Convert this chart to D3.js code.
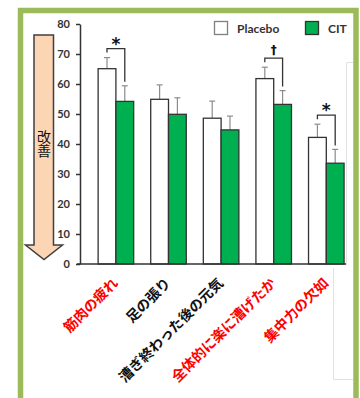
<!DOCTYPE html>
<html>
<head>
<meta charset="utf-8">
<script src="https://cdn.jsdelivr.net/npm/d3@7"></script>
<style>
  html, body { margin: 0; padding: 0; background: #fff; }
  svg { display: block; }
</style>
</head>
<body>
<svg id="chart" width="360" height="398"></svg>
<script>
// Questionnaire items (lower score = improvement)
const categories = ["筋肉の疲れ", "足の張り", "漕ぎ終わった後の元気", "全体的に楽に漕げたか", "集中力の欠如"];
const highlighted = [true, false, false, true, true];
const series = ["Placebo", "CIT"];

// Means and standard errors
const placebo = [65.1, 54.9, 48.6, 61.8, 42.2];
const placeboErr = [3.7, 4.8, 5.7, 3.8, 4.4];
const cit = [54.2, 49.9, 44.7, 53.2, 33.6];
const citErr = [5.2, 5.5, 4.6, 4.6, 4.6];

// Significant differences between groups
const sigIndex = [0, 3, 4];
const sigMarks = ["*", "†", "*"];

const yTicks = [0, 10, 20, 30, 40, 50, 60, 70, 80];

const colors = { Placebo: "#ffffff", CIT: "#00b050" };
const ink = "#333333";

const svg = d3.select("#chart");

// Frame (open at the bottom edge of the view)
svg.append("path")
  .attr("d", "M20.5,400V10.5H356V400")
  .attr("fill", "none")
  .attr("stroke", "#9bbb59").attr("stroke-width", 5.5);

// Faint panel edges on the right
const faint = svg.append("g").attr("stroke", "#e2e2e2").attr("stroke-width", 1).attr("fill", "none");
faint.append("path").attr("d", "M353,62.5H346.5V265");
faint.append("path").attr("d", "M333.5,268V379.5H353");

const y = d3.scaleLinear().domain([0, 80]).range([264, 24]);
const x0 = d3.scaleBand().domain(categories).range([89.6, 352.6])
  .paddingInner(0.324).paddingOuter(0.162);
const x1 = d3.scaleBand().domain(series).range([0, x0.bandwidth()]);

const rows = categories.map((c, i) => ({
  cat: c, i,
  vals: [
    { s: "Placebo", v: placebo[i], e: placeboErr[i] },
    { s: "CIT", v: cit[i], e: citErr[i] }
  ]
}));

// Error bars (upward only)
const eb = svg.append("g").attr("stroke", "#8c8c8c").attr("stroke-width", 1.2);
rows.forEach(r => r.vals.forEach(d => {
  const cx = x0(r.cat) + x1(d.s) + x1.bandwidth() / 2;
  eb.append("line").attr("x1", cx).attr("x2", cx)
    .attr("y1", y(d.v)).attr("y2", y(d.v + d.e));
  eb.append("line").attr("x1", cx - 3).attr("x2", cx + 3)
    .attr("y1", y(d.v + d.e)).attr("y2", y(d.v + d.e));
}));

// Bars
const groups = svg.append("g").selectAll("g").data(rows).join("g")
  .attr("transform", d => `translate(${x0(d.cat)},0)`);
groups.selectAll("rect").data(d => d.vals).join("rect")
  .attr("x", d => x1(d.s))
  .attr("y", d => y(d.v))
  .attr("width", x1.bandwidth())
  .attr("height", d => y(0) - y(d.v))
  .attr("fill", d => colors[d.s])
  .attr("stroke", ink).attr("stroke-width", 1.3);

// Y axis
const yAxis = svg.append("g")
  .attr("transform", "translate(80,0)")
  .call(d3.axisLeft(y).tickValues(yTicks).tickSize(4).tickPadding(6).tickSizeOuter(0));
yAxis.select(".domain").attr("stroke", ink).attr("stroke-width", 1.5);
yAxis.selectAll(".tick line").attr("stroke", ink).attr("stroke-width", 1.5);
yAxis.selectAll("text")
  .attr("fill", ink)
  .style("font-family", "Lato, 'Open Sans', sans-serif")
  .style("font-weight", "bold")
  .style("font-size", "11px");

// Baseline
svg.append("line")
  .attr("x1", 77).attr("x2", 346)
  .attr("y1", y(0)).attr("y2", y(0))
  .attr("stroke", ink).attr("stroke-width", 1.5);

// Category labels, rotated
svg.append("g").selectAll("text").data(categories).join("text")
  .attr("transform", (d, i) => {
    const cx = x0(d) + x0.bandwidth() / 2 + 3;
    return `translate(${cx},284) rotate(-45)`;
  })
  .attr("text-anchor", "end")
  .attr("fill", (d, i) => highlighted[i] ? "#ff0000" : "#111")
  .style("font-family", "'Noto Sans CJK JP', sans-serif")
  .style("font-weight", "bold")
  .style("font-size", "14px")
  .text(d => d);

// Significance brackets
const br = svg.append("g");
sigIndex.forEach((idx, k) => {
  const c = categories[idx];
  const xa = x0(c) + x1("Placebo") + x1.bandwidth() / 2;
  const xb = x0(c) + x1("CIT") + x1.bandwidth() / 2;
  const top = y(placebo[idx] + placeboErr[idx]) - 9;
  const rightEnd = y(cit[idx] + citErr[idx]) - 4;
  br.append("path")
    .attr("d", `M${xa},${top + 4}V${top}H${xb}V${rightEnd}`)
    .attr("fill", "none").attr("stroke", ink).attr("stroke-width", 1.3);
  br.append("text")
    .attr("x", (xa + xb) / 2)
    .attr("y", sigMarks[k] === "*" ? top + 1 : top - 4)
    .attr("text-anchor", "middle")
    .attr("fill", "#111")
    .style("font-family", "'DejaVu Sans', sans-serif")
    .style("font-weight", "bold")
    .style("font-size", sigMarks[k] === "*" ? "17px" : "12px")
    .text(sigMarks[k]);
});

// Legend
const legend = svg.append("g");
series.forEach((s, i) => {
  const lx = [214.5, 305.5][i];
  legend.append("rect")
    .attr("x", lx).attr("y", 21.5)
    .attr("width", 13).attr("height", 13)
    .attr("fill", colors[s])
    .attr("stroke", i === 0 ? "#7f7f7f" : ink).attr("stroke-width", 1.3);
  legend.append("text")
    .attr("x", lx + 22.5).attr("y", 33)
    .attr("fill", ink)
    .style("font-family", "Lato, 'Open Sans', sans-serif")
    .style("font-weight", "bold")
    .style("font-size", "12px")
    .text(s);
});

// "Improvement" direction arrow
const arrow = svg.append("g");
arrow.append("path")
  .attr("d", "M34,35H53.5V245H62.5L44,259.5L25.5,245H34Z")
  .attr("fill", "#fcd5b5")
  .attr("stroke", "#3f3f3f").attr("stroke-width", 1.5)
  .attr("stroke-linejoin", "miter");
arrow.append("text")
  .attr("x", 44).attr("y", 144)
  .attr("text-anchor", "middle")
  .attr("fill", "#111")
  .style("writing-mode", "vertical-rl")
  .style("font-family", "'Noto Sans CJK JP', sans-serif")
  .style("font-size", "14px")
  .text("改善");
</script>
</body>
</html>
